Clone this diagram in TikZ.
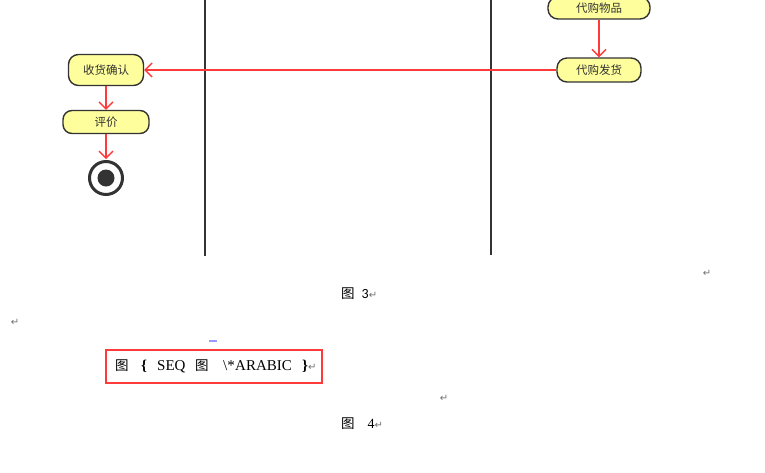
\documentclass[tikz,border=0pt]{standalone}
\usepackage{fontspec}
\setmainfont{Liberation Serif}
\newfontfamily\cjk{Noto Sans CJK SC}
\newfontfamily\carlito{Carlito}
\newfontfamily\symbfont{DejaVu Sans}
\usetikzlibrary{arrows.meta}

\definecolor{actfill}{HTML}{FEFE9C}
\definecolor{actline}{HTML}{333333}
\definecolor{flowred}{HTML}{FF3A3A}
\definecolor{markgray}{HTML}{707070}
\newcommand{\retmark}{{\symbfont\fontsize{10}{10}\selectfont\color{markgray}↵}}
\newcommand{\tu}{{\cjk\fontsize{13.5}{13.5}\selectfont 图}}

\begin{document}
\begin{tikzpicture}[x=1pt,y=-1pt,
    activity/.style={draw=actline,line width=1.4pt,fill=actfill,rounded corners=10pt,
        inner sep=0pt,text=actline,font={\cjk\fontsize{11.5}{11.5}\selectfont}},
    flow/.style={draw=flowred,line width=1.4pt,-{Straight Barb[length=7pt,width=14pt,line width=1.4pt]}},
    lane/.style={draw=actline,line width=1.6pt},
    caption/.style={inner sep=0pt,font={\fontsize{14}{14}\selectfont}},
    fieldpart/.style={inner sep=0pt,anchor=base west,font={\fontsize{15}{15}\selectfont}}]
\useasboundingbox (0,0) rectangle (765,472);

% swimlanes
\draw[lane](205,0)--(205,256);
\draw[lane](491,0)--(491,255);

% activities
\node[activity,minimum width=102pt,minimum height=22pt] (buy) at (599,8) {代购物品};
\node[activity,minimum width=84pt,minimum height=24pt] (ship) at (599,70) {代购发货};
\node[activity,minimum width=75pt,minimum height=31pt] (confirm) at (106,70) {收货确认};
\node[activity,minimum width=86pt,minimum height=23pt,rounded corners=9pt] (rate) at (106,122) {评价};
\node[circle,draw=actline,line width=3pt,minimum size=33pt,inner sep=0pt] (stop) at (106,178) {};
\fill[actline](stop.center) circle(8.5);

\draw[flow](buy)--(ship);
\draw[flow](ship)--(confirm);
\draw[flow](confirm)--(rate);
\draw[flow,shorten >=1pt](rate)--(stop);

% captions
\node[caption,anchor=west] (fig3) at (341,294) {\tu\hspace{7pt}{\carlito 3}\retmark};
\node[inner sep=0pt] (ret1) at (707,273) {\retmark};
\node[inner sep=0pt] (ret2) at (15,322) {\retmark};
\draw[blue!40,line width=1.2pt](209,341)--(217,341);

\node[draw=flowred,line width=2.2pt,minimum width=216pt,minimum height=33pt] (field) at (214,366.5) {};
\foreach \x/\t [count=\i] in {115/{\tu},141/{\bfseries\{},157/{SEQ},195/{\tu},
        223/{\textbackslash*},235/{ARABIC},302/{\bfseries\}},308/{\retmark}}
    \node[fieldpart] (part\i) at (\x,370) {\t};
\node[inner sep=0pt] (ret3) at (444,398) {\retmark};
\node[caption,anchor=west] (fig4) at (341,424) {\tu\hspace{13pt}4\retmark};
\end{tikzpicture}
\end{document}
